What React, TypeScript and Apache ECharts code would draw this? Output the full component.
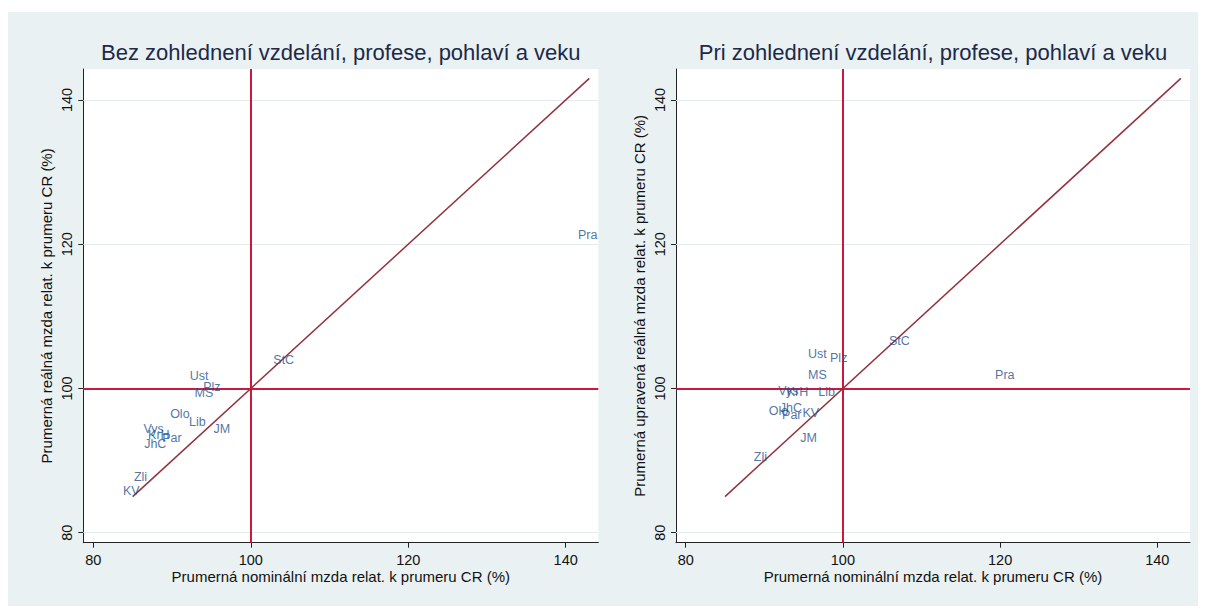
import React, { useEffect, useRef } from "react";
import * as echarts from "echarts";

// ---- data ----
const regionsLeft = ["Pra", "StC", "Ust", "Plz", "MS", "Olo", "Lib", "JM", "Vys", "KrH", "Par", "JhC", "Zli", "KV"];
const nominalLeft = [141.3, 102.6, 92.0, 93.7, 92.6, 89.5, 91.9, 95.0, 86.1, 86.7, 88.5, 86.2, 84.9, 83.5];
const realLeft = [121.3, 104.0, 101.7, 100.2, 99.4, 96.4, 95.3, 94.4, 94.4, 93.6, 93.1, 92.3, 87.7, 85.8];

const regionsRight = ["Pra", "StC", "Ust", "Plz", "MS", "Vys", "KrH", "Lib", "JhC", "Olo", "Par", "KV", "JM", "Zli"];
const nominalRight = [119.1, 105.6, 95.3, 98.1, 95.3, 91.5, 92.6, 96.6, 91.7, 90.3, 92.0, 94.6, 94.3, 88.4];
const realAdjRight = [101.8, 106.6, 104.8, 104.2, 101.8, 99.7, 99.55, 99.5, 97.25, 96.9, 96.3, 96.55, 93.2, 90.5];

const diagonal = [85, 143];
const tickValues = [80, 100, 120, 140];
const refValue = 100;

const titles = [
  "Bez zohlednení vzdelání, profese, pohlaví a veku",
  "Pri zohlednení vzdelání, profese, pohlaví a veku",
];
const xAxisName = "Prumerná nominální mzda relat. k prumeru CR (%)";
const yAxisNames = [
  "Prumerná reálná mzda relat. k prumeru CR (%)",
  "Prumerná upravená reálná mzda relat. k prumeru CR (%)",
];

const FONT = "'Liberation Sans', Arial, sans-serif";
const LABEL_COLOR = "#24508a";
const RED = "#c81a3e";
const DIAG = "#93323c";
const GRIDLINE = "#e2ecef";

export default function App() {
  const ref = useRef<HTMLDivElement>(null);
  useEffect(() => {
    if (!ref.current) return;
    const chart = echarts.init(ref.current, undefined, { renderer: "svg" });

    const grids = [
      { left: 75.3, top: 57, width: 515, height: 473.7 },
      { left: 668, top: 57, width: 514, height: 473.7 },
    ];
    const xRanges = [
      [78.73, 144.14],
      [78.766, 144.16],
    ];
    const yRange = [78.613, 144.298];

    const xAxes = [0, 1].map((i) => ({
      type: "value",
      gridIndex: i,
      min: xRanges[i][0],
      max: xRanges[i][1],
      name: xAxisName,
      nameLocation: "middle",
      nameGap: 26,
      nameMoveOverlap: false,
      nameTextStyle: { fontSize: 15, color: "#111", fontFamily: FONT },
      axisLine: { show: true, onZero: false, lineStyle: { color: "#222", width: 1 } },
      axisTick: { show: true, inside: false, length: 5, customValues: tickValues, lineStyle: { color: "#222" } },
      axisLabel: { show: true, margin: 10, fontSize: 14.5, color: "#111", fontFamily: FONT, customValues: tickValues },
      splitLine: { show: false },
    }));
    const yAxes = [0, 1].map((i) => ({
      type: "value",
      gridIndex: i,
      min: yRange[0],
      max: yRange[1],
      name: yAxisNames[i],
      nameLocation: "middle",
      nameGap: 29,
      nameMoveOverlap: false,
      nameTextStyle: { fontSize: 15, color: "#111", fontFamily: FONT },
      axisLine: { show: true, onZero: false, lineStyle: { color: "#222", width: 1 } },
      axisTick: { show: true, inside: false, length: 5, customValues: tickValues, lineStyle: { color: "#222" } },
      axisLabel: { show: true, rotate: 90, margin: 9, fontSize: 14.5, color: "#111", fontFamily: FONT, customValues: tickValues },
      splitLine: { show: false },
    }));

    const markLineData = [
      ...tickValues.map((v) => ({ yAxis: v, lineStyle: { color: GRIDLINE, width: 1, type: "solid" } })),
      { xAxis: refValue, lineStyle: { color: RED, width: 2, type: "solid" } },
      { yAxis: refValue, lineStyle: { color: RED, width: 2, type: "solid" } },
    ];

    const panels = [
      { names: regionsLeft, xs: nominalLeft, ys: realLeft },
      { names: regionsRight, xs: nominalRight, ys: realAdjRight },
    ];

    const series: any[] = [];
    panels.forEach((p, i) => {
      series.push({
        type: "line",
        xAxisIndex: i,
        yAxisIndex: i,
        data: [
          [diagonal[0], diagonal[0]],
          [diagonal[1], diagonal[1]],
        ],
        symbol: "none",
        lineStyle: { color: DIAG, width: 1.5 },
        silent: true,
        z: 3,
        markLine: {
          silent: true,
          symbol: ["none", "none"],
          label: { show: false },
          data: markLineData,
          z: 1,
        },
      });
      series.push({
        type: "scatter",
        xAxisIndex: i,
        yAxisIndex: i,
        symbolSize: 0.1,
        itemStyle: { color: "transparent" },
        z: 5,
        data: p.names.map((n, k) => ({ name: n, value: [p.xs[k], p.ys[k]] })),
        label: {
          show: true,
          formatter: "{b}",
          position: "right",
          distance: 2,
          color: LABEL_COLOR,
          fontSize: 12.5,
          fontFamily: FONT,
        },
      });
    });

    chart.setOption({
      animation: false,
      backgroundColor: "#eaf1f3",
      grid: grids.map((g) => ({ ...g, show: true, backgroundColor: "#ffffff", borderWidth: 0, containLabel: false })),
      xAxis: xAxes,
      yAxis: yAxes,
      series,
      graphic: [
        {
          type: "text",
          x: 332.8,
          y: 40,
          style: { text: titles[0], align: "center", verticalAlign: "middle", fontSize: 22, fontFamily: FONT, fill: "#1c2a48" },
        },
        {
          type: "text",
          x: 925,
          y: 40,
          style: { text: titles[1], align: "center", verticalAlign: "middle", fontSize: 22, fontFamily: FONT, fill: "#1c2a48" },
        },
      ],
    });
    return () => chart.dispose();
  }, []);

  return (
    <div style={{ paddingTop: 4 }}>
      <div ref={ref} style={{ width: 1190, height: 594 }} />
    </div>
  );
}
